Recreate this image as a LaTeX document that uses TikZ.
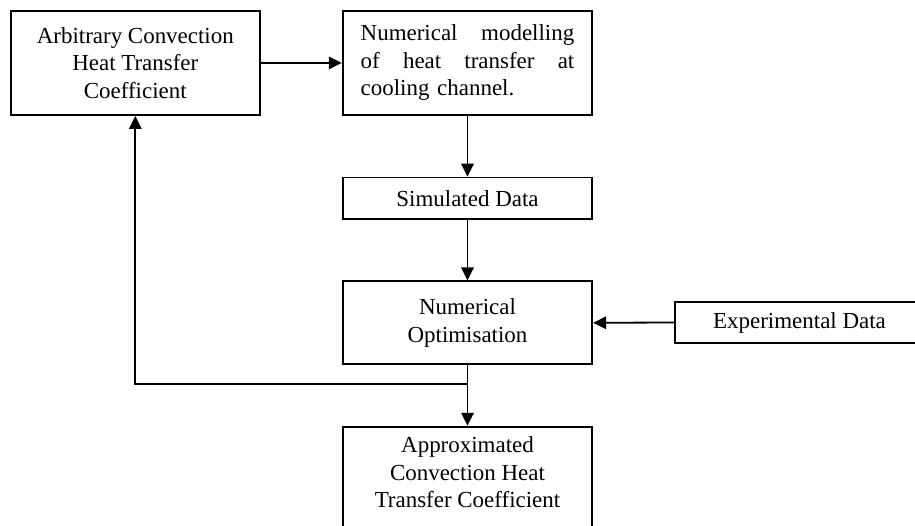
\documentclass[tikz,border=0pt]{standalone}
\usepackage{fontspec}
\setmainfont{Liberation Serif}
\usetikzlibrary{arrows.meta}
\begin{document}
\begin{tikzpicture}[x=1pt,y=-1pt,
  every node/.style={font=\fontsize{22.95}{27.5}\selectfont},
  box/.style={draw,line width=1.8pt,rectangle,inner sep=0pt,align=center,minimum width=249.6pt},
  arr/.style={line width=1.8pt,-{Triangle[length=13pt,width=12.5pt]}},
  ln/.style={line width=1.8pt}]
\useasboundingbox (0,0) rectangle (915,526);
\node[box,minimum width=249.3pt,minimum height=104.3pt] (b1) at (135.3,62.9)
  {Arbitrary Convection\\Heat Transfer\\Coefficient};
\node[box,minimum height=104pt,text width=213.6pt,align=left] (b2) at (467.5,63)
  {Numerical\hfill modelling\\of\hfill heat\hfill transfer\hfill at\\cooling channel.};
\node[box,minimum height=41.8pt] (b3) at (467.5,198.4) {Simulated Data};
\node[box,minimum height=83pt] (b4) at (467.5,322.8) {Numerical\\Optimisation};
\node[box,minimum width=249pt,minimum height=41pt] (b5) at (799.5,322.5) {Experimental Data};
\node[box,minimum height=104.3pt] (b6) at (467.5,478.8) {};
\node[align=center,inner sep=0pt] (t6) at (467.5,472.3)
  {Approximated\\Convection Heat\\Transfer Coefficient};
\coordinate (j) at (467.5,384.3);
\draw[arr] (b1.east) -- (b2.west);
\draw[arr] (b2.south) -- (b3.north);
\draw[arr] (b3.south) -- (b4.north);
\draw[arr] (b5.west) -- (b4.east);
\draw[arr] (b4.south) -- (b6.north);
\draw[arr] (j) -| (b1.south);
\end{tikzpicture}
\end{document}
